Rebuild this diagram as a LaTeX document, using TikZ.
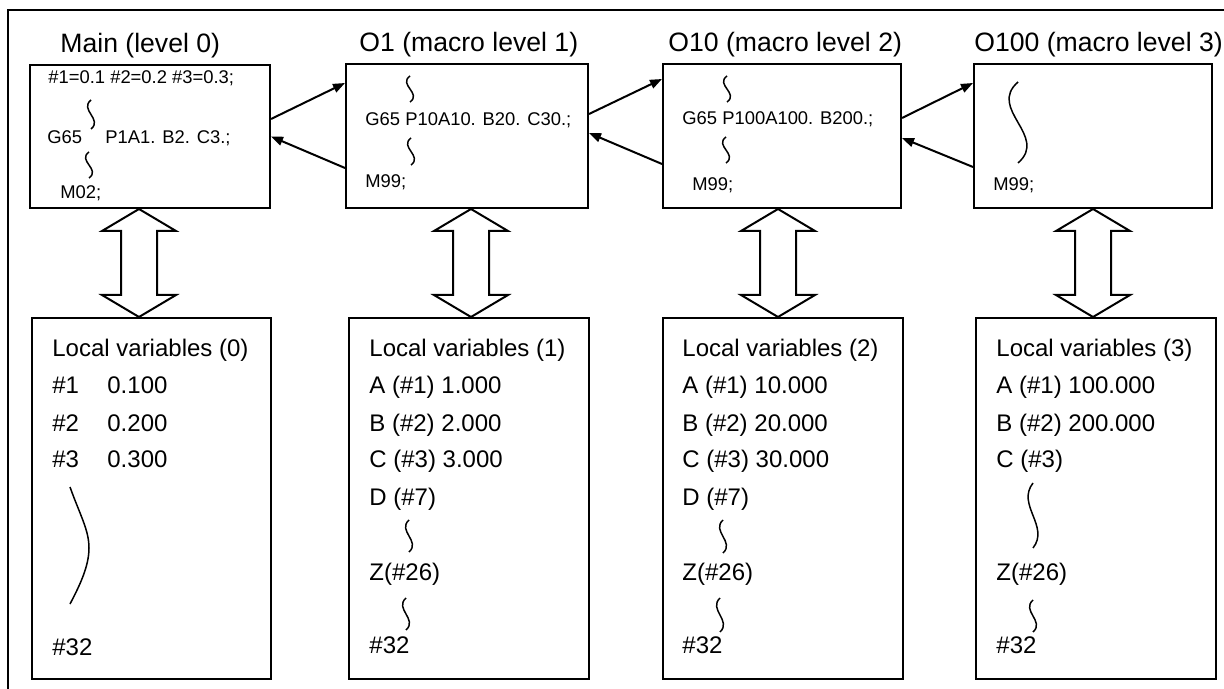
\documentclass[tikz,border=0pt]{standalone}
\usepackage{fontspec}
\setmainfont{Liberation Sans}
\usetikzlibrary{arrows.meta, calc}

% vertical wavy "omitted" mark: x, top y, bottom y, swing
\newcommand{\wavyline}[4]{%
  \draw[squiggle] (#1,#2) .. controls ({#1-#4},{#2*2/3+#3/3})
    and ({#1+#4},{#2/3+#3*2/3}) .. (#1,#3);}

\begin{document}
\begin{tikzpicture}[
  x=0.5pt, y=-0.5pt,
  >={Triangle[length=6pt, width=4.5pt]},
  prog/.style={draw, line width=1pt, anchor=north west, inner sep=0,
    minimum height=72pt},
  vars/.style={draw, line width=1pt, anchor=north west, inner sep=0,
    minimum width=120pt, minimum height=180.5pt},
  title/.style={font=\fontsize{13.3}{16}\selectfont, anchor=base west, inner sep=0},
  code/.style={font=\fontsize{9.2}{11}\selectfont, anchor=base west, inner sep=0},
  var/.style={font=\fontsize{12}{14}\selectfont, anchor=base west, inner sep=0},
  call/.style={->, line width=1pt},
  dbl/.style={draw, line width=1pt, fill=white, line join=miter},
  squiggle/.style={line width=0.75pt},
  frame/.style={line width=1.3pt},
]
\useasboundingbox (0,0) rectangle (1224,689);

% outer frame (top and left only)
\draw[frame] (1224,10) -| (8,689);

% === program boxes ===
\node[title] (tmain) at (60,53) {Main (level 0)};
\node[title] (toone) at (359,52) {O1 (macro level 1)};
\node[title] (toten) at (668,52) {O10 (macro level 2)};
\node[title] (tohun) at (974,52) {O100 (macro level 3)};

\node[prog, minimum width=120pt, minimum height=71.5pt] (main) at (29,64) {};
\node[prog, minimum width=121pt] (oone) at (345,63) {};
\node[prog, minimum width=119pt] (oten) at (662,63) {};
\node[prog, minimum width=119pt] (ohun) at (973,63) {};

% Main
\node[code] (m1) at (48,84) {\#1=0.1 \#2=0.2 \#3=0.3;};
\wavyline{91}{100}{129}{12}
\node[code] (m2) at (47,144) {G65};
\node[code] (m3) at (105,144) {P1A1. B2. C3.;};
\wavyline{89}{152}{178}{12}
\node[code] (m4) at (60,199) {M02;};

% O1
\wavyline{410}{76}{102}{12}
\node[code] (a1) at (365,126) {G65 P10A10. B20. C30.;};
\wavyline{411}{138}{165}{12}
\node[code] (a2) at (365,188) {M99;};

% O10
\wavyline{727}{76}{102}{12}
\node[code] (b1) at (682,125) {G65 P100A100. B200.;};
\wavyline{726}{137}{163}{12}
\node[code] (b2) at (692,191) {M99;};

% O100
\wavyline{1018}{82}{163}{31}
\node[code] (c1) at (993,191) {M99;};

% calls and returns
\draw[call] ([yshift=8.75pt]main.east) -- ([yshift=26.5pt]oone.west);
\draw[call] ([yshift=-16pt]oone.west) -- (main.east);
\draw[call] ([yshift=11pt]oone.east) -- ([yshift=28.5pt]oten.west);
\draw[call] ([yshift=-14pt]oten.west) -- ([yshift=1.5pt]oone.east);
\draw[call] ([yshift=9pt]oten.east) -- ([yshift=26.5pt]ohun.west);
\draw[call] ([yshift=-15.5pt]ohun.west) -- ([yshift=-1pt]oten.east);

% === local variable boxes ===
\node[vars, minimum width=119.5pt] (lvzero) at (31,317) {};
\node[vars] (lvone) at (348,317) {};
\node[vars] (lvtwo) at (662,317) {};
\node[vars] (lvthree) at (975,317) {};

% double arrows
\foreach \cx/\up/\dn in {139/main/lvzero, 471/oone/lvone, 778/oten/lvtwo, 1093/ohun/lvthree} {
  \coordinate (t) at (\cx,0 |- \up.south);
  \coordinate (b) at (\cx,0 |- \dn.north);
  \draw[dbl] (t) -- ++(37,22) -- ++(-19,0) -- ($(b)+(18,-22)$) -- ++(19,0)
    -- (b) -- ++(-37,-22) -- ++(19,0) -- ($(t)+(-18,22)$) -- ++(-19,0) -- cycle;
}

% level 0
\node[var] (v0) at (52,357) {Local variables (0)};
\node[var] (v01) at (52,393) {\#1};
\node[var] (v01v) at (107,393) {0.100};
\node[var] (v02) at (52,431) {\#2};
\node[var] (v02v) at (107,431) {0.200};
\node[var] (v03) at (52,467) {\#3};
\node[var] (v03v) at (107,467) {0.300};
\draw[squiggle] (70,487) .. controls (80,515) and (89,530) .. (89,548)
  .. controls (89,566) and (80,585) .. (70,604);
\node[var] (v04) at (52,655) {\#32};

% level 1
\node[var] (v1) at (369,357) {Local variables (1)};
\node[var] (v11) at (369,393) {A (\#1) 1.000};
\node[var] (v12) at (369,431) {B (\#2) 2.000};
\node[var] (v13) at (369,467) {C (\#3) 3.000};
\node[var] (v14) at (369,505) {D (\#7)};
\wavyline{409}{520}{552}{12}
\node[var] (v15) at (369,580) {Z(\#26)};
\wavyline{406}{598}{630}{12}
\node[var] (v16) at (369,653) {\#32};

% level 2
\node[var] (v2) at (682,357) {Local variables (2)};
\node[var] (v21) at (682,393) {A (\#1) 10.000};
\node[var] (v22) at (682,431) {B (\#2) 20.000};
\node[var] (v23) at (682,467) {C (\#3) 30.000};
\node[var] (v24) at (682,505) {D (\#7)};
\wavyline{723}{520}{553}{12}
\node[var] (v25) at (682,580) {Z(\#26)};
\wavyline{720}{598}{632}{12}
\node[var] (v26) at (682,653) {\#32};

% level 3
\node[var] (v3) at (996,357) {Local variables (3)};
\node[var] (v31) at (996,393) {A (\#1) 100.000};
\node[var] (v32) at (996,431) {B (\#2) 200.000};
\node[var] (v33) at (996,467) {C (\#3)};
\wavyline{1033}{483}{548}{17}
\node[var] (v34) at (996,580) {Z(\#26)};
\wavyline{1033}{600}{632}{12}
\node[var] (v35) at (996,653) {\#32};

\end{tikzpicture}
\end{document}
